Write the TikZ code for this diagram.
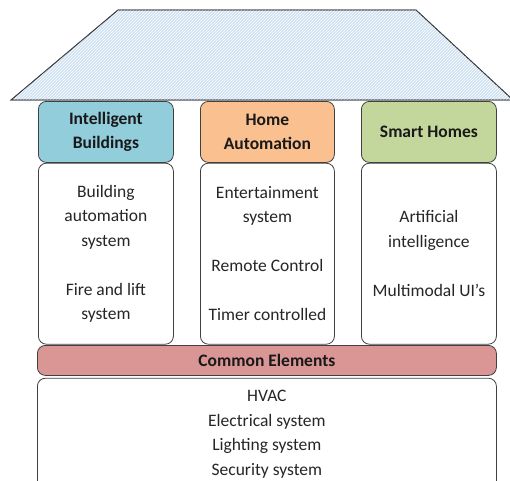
\documentclass[tikz,border=0pt]{standalone}
\usepackage{fontspec}
\setmainfont{Carlito}
\usepackage{xcolor}
\usetikzlibrary{positioning, patterns}

\definecolor{roofblue}{RGB}{206,226,243}
\definecolor{ibblue}{RGB}{146,205,220}
\definecolor{haorange}{RGB}{250,192,144}
\definecolor{shgreen}{RGB}{195,214,155}
\definecolor{cered}{RGB}{217,150,148}

\begin{document}
\begin{tikzpicture}[
    x=1pt, y=-1pt,
    head/.style={
        rectangle, rounded corners=8pt, draw=black!75, line width=0.8pt,
        minimum width=135pt, minimum height=61pt, inner sep=2pt,
        align=center, text=black!90,
        font=\bfseries\fontsize{17.5}{24.5}\selectfont
    },
    body/.style={
        rectangle, rounded corners=8pt, draw=black!75, line width=0.8pt,
        fill=white, minimum width=135pt, minimum height=181pt,
        align=center, text=black!85,
        font=\fontsize{17.5}{24.5}\selectfont
    },
    roof/.style={draw=black!75, line width=0.8pt, fill=roofblue}
]
\useasboundingbox (0,0) rectangle (510,480);
\clip (0,0) rectangle (510,480);

% 1. Roof
\draw[roof] (118,10) -- (416,10) -- (513,100) -- (11,100) -- cycle;
\path[pattern=north east lines, pattern color=white] (118,10) -- (416,10) -- (513,100) -- (11,100) -- cycle;
\draw[draw=black!75, line width=0.8pt] (11,100) -- (118,10) -- (416,10) -- (513,100) -- cycle;

% 2. Three pillars: headers at fixed top, bodies stacked below
\node[head, fill=ibblue, anchor=north west] (ibhead) at (38,101) {Intelligent\\Buildings};
\node[head, fill=haorange, anchor=north west, minimum width=134pt] (hahead) at (200,101) {Home\\Automation};
\node[head, fill=shgreen, anchor=north west] (shhead) at (361,101) {Smart Homes};

\node[body, below=0pt of ibhead] (ibbody) {
    Building\\automation\\system\\[24.5pt]Fire and lift\\system
};
\node[body, below=0pt of hahead, minimum width=134pt] (habody) {
    Entertainment\\system\\[24.5pt]Remote Control\\[24.5pt]Timer controlled
};
\node[body, below=0pt of shhead] (shbody) {
    Artificial\\intelligence\\[24.5pt]Multimodal UI’s
};

% 3. Foundation
\node[head, fill=cered, anchor=north west, minimum width=459pt, minimum height=30pt] (cehead) at (37,345) {Common Elements};
\node[body, below=2pt of cehead, minimum width=459pt, minimum height=112pt] (cebody) {
    HVAC\\Electrical system\\Lighting system\\Security system
};

\end{tikzpicture}
\end{document}
